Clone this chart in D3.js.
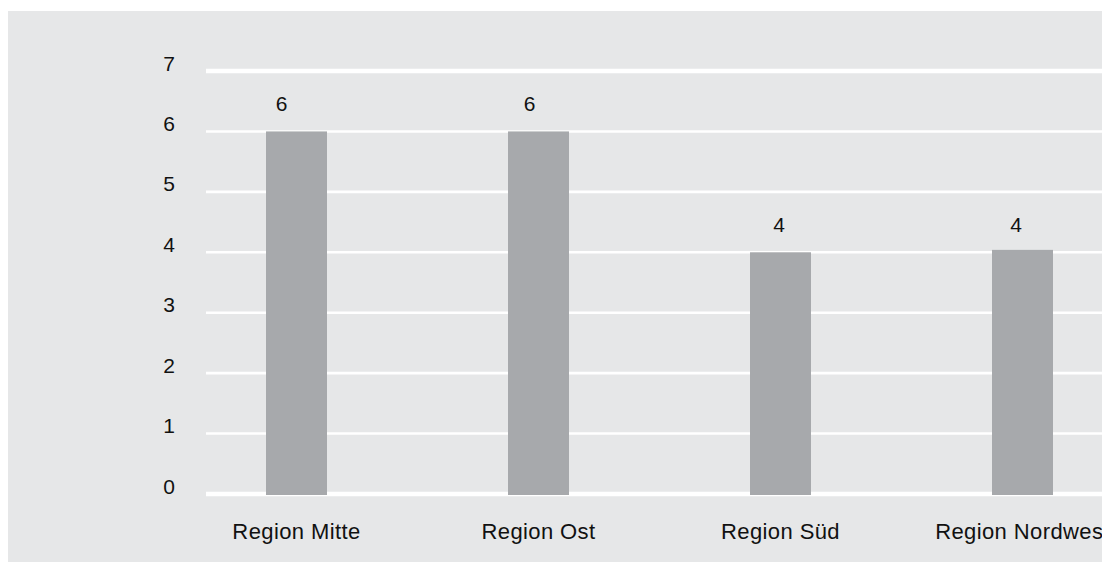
<!DOCTYPE html>
<html>
<head>
<meta charset="utf-8">
<script src="https://cdn.jsdelivr.net/npm/d3@7"></script>
<style>
  html, body { margin: 0; padding: 0; background: #ffffff; }
  svg { display: block; }
  text { font-family: "Liberation Sans", Arial, sans-serif; fill: #111111; }
</style>
</head>
<body>
<svg id="chart" width="1102" height="563"></svg>
<script>
// Data
const categories = ["Region Mitte", "Region Ost", "Region Süd", "Region Nordwest"];
const values = [6, 6, 4, 4.04];
const yTicks = [0, 1, 2, 3, 4, 5, 6, 7];
const labelDx = [-15, -9, -1.5, -6.5];

const W = 1102, H = 563;
const svg = d3.select("#chart");

// background panel
svg.append("rect")
  .attr("x", 8).attr("y", 11)
  .attr("width", W - 8).attr("height", 551)
  .attr("fill", "#e6e7e8");

const x = d3.scaleBand()
  .domain(categories)
  .range([175.5, 1143.5])
  .paddingInner(0.748)
  .paddingOuter(0.374);

const y = d3.scaleLinear()
  .domain([0, 7])
  .range([494, 71]);

// gridlines
svg.append("g")
  .selectAll("line")
  .data(yTicks)
  .join("line")
  .attr("x1", 206).attr("x2", W)
  .attr("y1", d => y(d)).attr("y2", d => y(d))
  .attr("stroke", "#ffffff")
  .attr("stroke-width", d => (d === 0 || d === 7) ? 4.5 : 2.6);

// y tick labels
svg.append("g")
  .selectAll("text")
  .data(yTicks)
  .join("text")
  .attr("x", 169)
  .attr("y", d => y(d) - 0.5)
  .attr("text-anchor", "middle")
  .attr("font-size", 21)
  .text(d => d);

// bars
svg.append("g")
  .selectAll("rect")
  .data(values)
  .join("rect")
  .attr("x", (d, i) => x(categories[i]))
  .attr("width", x.bandwidth())
  .attr("y", d => y(d))
  .attr("height", d => y(0) + 1 - y(d))
  .attr("fill", "#a7a9ac");

// value labels
svg.append("g")
  .selectAll("text")
  .data(values)
  .join("text")
  .attr("x", (d, i) => x(categories[i]) + x.bandwidth() / 2 + labelDx[i])
  .attr("y", d => y(Math.round(d)) - 20)
  .attr("text-anchor", "middle")
  .attr("font-size", 21)
  .text(d => d3.format(".0f")(d));

// category labels
svg.append("g")
  .selectAll("text")
  .data(categories)
  .join("text")
  .attr("x", d => x(d) + x.bandwidth() / 2)
  .attr("y", 539)
  .attr("text-anchor", "middle")
  .attr("font-size", 22)
  .attr("letter-spacing", 0.4)
  .text(d => d);
</script>
</body>
</html>
